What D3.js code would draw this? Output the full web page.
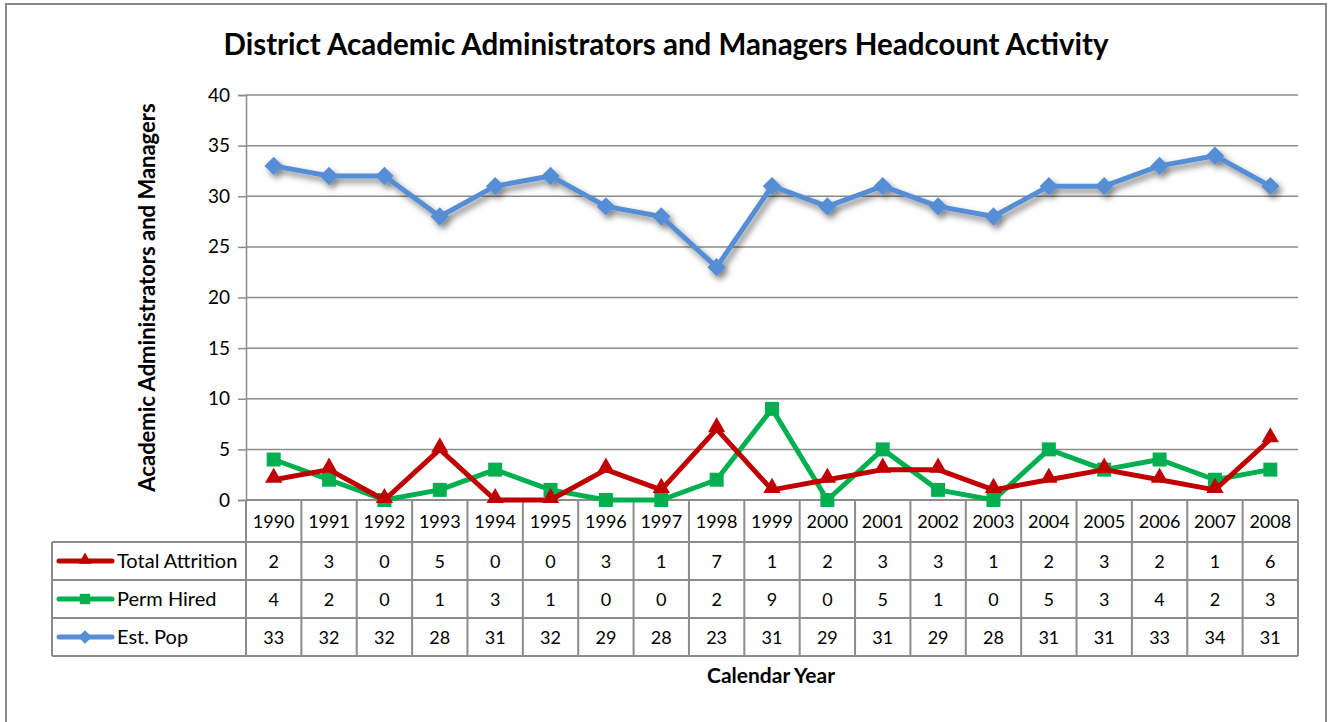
<!DOCTYPE html>
<html>
<head>
<meta charset="utf-8">
<script src="https://cdn.jsdelivr.net/npm/d3@7"></script>
<style>
  body { margin: 0; background: #fff; }
  text { font-family: Lato, "Open Sans", sans-serif; fill: #000; }
</style>
</head>
<body>
<script>
var years = ["1990","1991","1992","1993","1994","1995","1996","1997","1998","1999","2000","2001","2002","2003","2004","2005","2006","2007","2008"];
var attrition = [2,3,0,5,0,0,3,1,7,1,2,3,3,1,2,3,2,1,6];
var hired = [4,2,0,1,3,1,0,0,2,9,0,5,1,0,5,3,4,2,3];
var pop = [33,32,32,28,31,32,29,28,23,31,29,31,29,28,31,31,33,34,31];
var yTicks = [0,5,10,15,20,25,30,35,40];

var series = [
  {name: "Total Attrition", values: attrition, color: "#C00000", marker: "triangle"},
  {name: "Perm Hired", values: hired, color: "#00B050", marker: "square"},
  {name: "Est. Pop", values: pop, color: "#558ED5", marker: "diamond", shadow: true}
];

var width = 1333, height = 722;
var plotLeft = 246, plotRight = 1298, plotTop = 95, plotBottom = 500;
var rowH = 38, headH = 42, legendLeft = 52;

var svg = d3.select("body").append("svg")
    .attr("width", width)
    .attr("height", height);

var defs = svg.append("defs");
var f = defs.append("filter").attr("id", "shadow")
    .attr("x", "-10%").attr("y", "-10%").attr("width", "130%").attr("height", "130%");
f.append("feDropShadow").attr("dx", 3).attr("dy", 4).attr("stdDeviation", 3)
    .attr("flood-color", "#000").attr("flood-opacity", 0.5);

// outer frame
svg.append("rect")
    .attr("x", 6).attr("y", 4).attr("width", 1320).attr("height", 730)
    .attr("fill", "#fff").attr("stroke", "#8a8a8a").attr("stroke-width", 2);

var x = d3.scaleBand().domain(years).range([plotLeft, plotRight]);
var y = d3.scaleLinear().domain([0, 40]).range([plotBottom, plotTop]);

// gridlines
svg.append("g").selectAll("line")
    .data(yTicks.filter(function(d) { return d > 0; }))
  .enter().append("line")
    .attr("x1", plotLeft).attr("x2", plotRight)
    .attr("y1", function(d) { return y(d); })
    .attr("y2", function(d) { return y(d); })
    .attr("stroke", "#8c8c8c").attr("stroke-width", 1.5);

var yAxis = svg.append("g")
    .attr("transform", "translate(" + plotLeft + ",0)")
    .call(d3.axisLeft(y).tickValues(yTicks).tickSize(8).tickPadding(8));
yAxis.select(".domain").attr("stroke", "#8c8c8c").attr("stroke-width", 1.5);
yAxis.selectAll(".tick line").attr("stroke", "#8c8c8c").attr("stroke-width", 1.5);
yAxis.selectAll(".tick text").style("font-size", "19px").attr("fill", "#000")
    .style("font-family", "Lato, 'Open Sans', sans-serif");

// table grid
var tableBottom = plotBottom + headH + rowH * 3;
var tg = svg.append("g").attr("stroke", "#8c8c8c").attr("stroke-width", 2);
var bounds = years.map(function(d) { return x(d); }).concat([plotRight]);
tg.selectAll(".v").data(bounds).enter().append("line")
    .attr("x1", function(d) { return d; }).attr("x2", function(d) { return d; })
    .attr("y1", plotBottom).attr("y2", tableBottom);
tg.append("line").attr("x1", legendLeft).attr("x2", legendLeft)
    .attr("y1", plotBottom + headH).attr("y2", tableBottom);
tg.append("line").attr("x1", plotLeft).attr("x2", plotRight).attr("y1", plotBottom).attr("y2", plotBottom);
[0, 1, 2, 3].forEach(function(i) {
  var yy = plotBottom + headH + rowH * i;
  tg.append("line").attr("x1", legendLeft).attr("x2", plotRight).attr("y1", yy).attr("y2", yy);
});

// header years
svg.append("g").selectAll("text").data(years).enter().append("text")
    .attr("x", function(d) { return x(d) + x.bandwidth() / 2; })
    .attr("y", plotBottom + headH / 2 + 7)
    .attr("text-anchor", "middle")
    .style("font-size", "18px")
    .text(function(d) { return d; });

// diamond drawn as a square turned 45 degrees
var markerSym = {triangle: d3.symbolTriangle, square: d3.symbolSquare, diamond: d3.symbolSquare};
var markerSize = {triangle: 130, square: 196, diamond: 170};
var markerRot = {triangle: 0, square: 0, diamond: 45};
var markerDy = {triangle: -2, square: 0, diamond: 0};

series.forEach(function(s, i) {
  var rowY = plotBottom + headH + rowH * i + rowH / 2;
  // values row
  svg.append("g").selectAll("text").data(s.values).enter().append("text")
      .attr("x", function(d, j) { return x(years[j]) + x.bandwidth() / 2; })
      .attr("y", rowY + 7)
      .attr("text-anchor", "middle")
      .style("font-size", "18px")
      .text(function(d) { return d; });
  // legend key
  var lg = svg.append("g");
  lg.append("line").attr("x1", 59).attr("x2", 112).attr("y1", rowY).attr("y2", rowY)
      .attr("stroke", s.color).attr("stroke-width", 5).attr("stroke-linecap", "round");
  lg.append("path")
      .attr("d", d3.symbol().type(markerSym[s.marker]).size(markerSize[s.marker] * 0.55)())
      .attr("transform", "translate(85," + (rowY + markerDy[s.marker] / 2) + ") rotate(" + markerRot[s.marker] + ")")
      .attr("fill", s.color);
  lg.append("text").attr("x", 117).attr("y", rowY + 7)
      .style("font-size", "20px").text(s.name);
});

var line = d3.line()
    .x(function(d, j) { return x(years[j]) + x.bandwidth() / 2; })
    .y(function(d) { return y(d); });

series.slice().reverse().forEach(function(s) {
  var g = svg.append("g");
  if (s.shadow) g.attr("filter", "url(#shadow)");
  g.append("path").datum(s.values)
      .attr("d", line)
      .attr("fill", "none")
      .attr("stroke", s.color)
      .attr("stroke-width", 5)
      .attr("stroke-linejoin", "round");
  g.selectAll(".m").data(s.values).enter().append("path")
      .attr("d", d3.symbol().type(markerSym[s.marker]).size(markerSize[s.marker])())
      .attr("transform", function(d, j) {
        return "translate(" + (x(years[j]) + x.bandwidth() / 2) + "," + (y(d) + markerDy[s.marker]) + ") rotate(" + markerRot[s.marker] + ")";
      })
      .attr("fill", s.color);
});

// title
svg.append("text")
    .attr("x", 666).attr("y", 55)
    .attr("text-anchor", "middle")
    .style("font-size", "29.5px").style("font-weight", "bold")
    .text("District Academic Administrators and Managers Headcount Activity");

svg.append("text")
    .attr("transform", "translate(155," + ((plotTop + plotBottom) / 2) + ") rotate(-90)")
    .attr("text-anchor", "middle")
    .style("font-size", "22px").style("font-weight", "bold")
    .text("Academic Administrators and Managers");

svg.append("text")
    .attr("x", 771).attr("y", 683)
    .attr("text-anchor", "middle")
    .style("font-size", "21px").style("font-weight", "bold")
    .text("Calendar Year");
</script>
</body>
</html>
